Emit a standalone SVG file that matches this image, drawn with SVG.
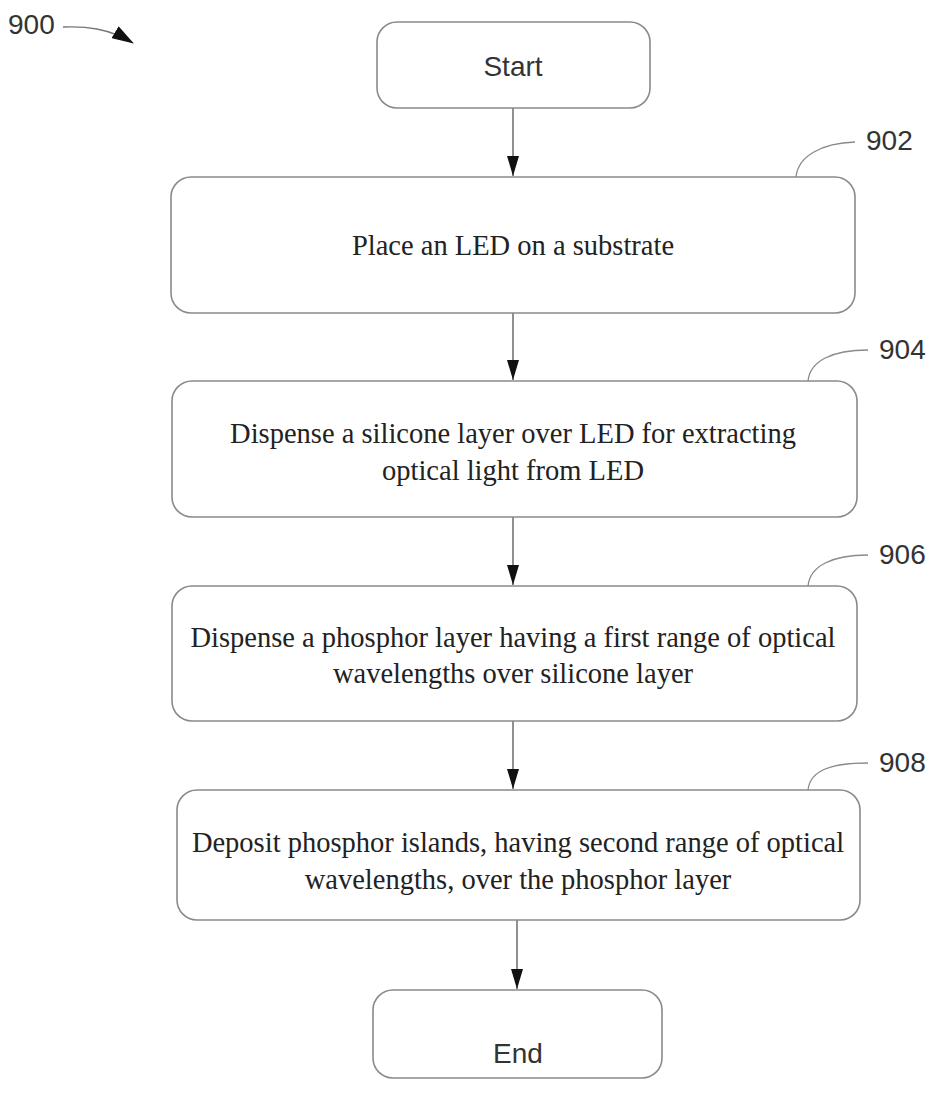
<svg xmlns="http://www.w3.org/2000/svg" width="932" height="1095" viewBox="0 0 932 1095">
<style>
.box{fill:#fff;stroke:#8a8a8a;stroke-width:1.6}
.sans{font-family:"Liberation Sans",Arial,sans-serif;font-size:28px;fill:#333}
.serif{font-family:"Liberation Serif","Times New Roman",serif;font-size:28.5px;fill:#222;text-anchor:middle}
.conn{stroke:#555;stroke-width:1.3;fill:none}
.lead{stroke:#8a8a8a;stroke-width:1.3;fill:none}
.head{fill:#111}
</style>
<defs>
<marker id="arr2" markerWidth="22" markerHeight="14" refX="21" refY="7" orient="auto" markerUnits="userSpaceOnUse" viewBox="0 0 22 14">
<path d="M0,0 L22,7 L0,14 Z" fill="#111"/>
</marker>
</defs>
<rect width="932" height="1095" fill="#fff"/>
<g id="label-900">
<text class="sans" x="8" y="34">900</text>
<path d="M63,27 C85,26 108,28 133,43" stroke="#777" stroke-width="1.3" fill="none" marker-end="url(#arr2)"/>
</g>
<g id="connectors">
<line class="conn" x1="513" y1="108" x2="513" y2="176"/>
<path class="head" d="M507,156 L519,156 L513,176 Z"/>
<line class="conn" x1="513" y1="313" x2="513" y2="380"/>
<path class="head" d="M507,360 L519,360 L513,380 Z"/>
<line class="conn" x1="513" y1="517" x2="513" y2="585"/>
<path class="head" d="M507,565 L519,565 L513,585 Z"/>
<line class="conn" x1="513" y1="721" x2="513" y2="789"/>
<path class="head" d="M507,769 L519,769 L513,789 Z"/>
<line class="conn" x1="517" y1="920" x2="517" y2="989"/>
<path class="head" d="M511,969 L523,969 L517,989 Z"/>
</g>
<g id="start">
<rect class="box" x="377" y="22" width="273" height="86" rx="20"/>
<text class="sans" x="513" y="76" text-anchor="middle">Start</text>
</g>
<g id="n902">
<rect class="box" x="171" y="177" width="684" height="136" rx="20"/>
<text class="serif" x="513" y="255">Place an LED on a substrate</text>
<path class="lead" d="M796,177 C798,156 822,143 855,142"/>
<text class="sans" x="866" y="150">902</text>
</g>
<g id="n904">
<rect class="box" x="172" y="381" width="685" height="136" rx="20"/>
<text class="serif" x="513" y="443">Dispense a silicone layer over LED for extracting</text>
<text class="serif" x="513" y="480">optical light from LED</text>
<path class="lead" d="M808,381 C810,361 832,350 868,350"/>
<text class="sans" x="879" y="359">904</text>
</g>
<g id="n906">
<rect class="box" x="172" y="586" width="685" height="135" rx="20"/>
<text class="serif" x="513" y="647">Dispense a phosphor layer having a first range of optical</text>
<text class="serif" x="513" y="683">wavelengths over silicone layer</text>
<path class="lead" d="M808,586 C810,566 832,555 868,555"/>
<text class="sans" x="879" y="564">906</text>
</g>
<g id="n908">
<rect class="box" x="177" y="790" width="683" height="130" rx="20"/>
<text class="serif" x="518" y="852">Deposit phosphor islands, having second range of optical</text>
<text class="serif" x="518" y="889">wavelengths, over the phosphor layer</text>
<path class="lead" d="M808,790 C810,770 832,763 868,763"/>
<text class="sans" x="879" y="772">908</text>
</g>
<g id="end">
<rect class="box" x="373" y="990" width="289" height="88" rx="20"/>
<text class="sans" x="518" y="1063" text-anchor="middle">End</text>
</g>
</svg>
